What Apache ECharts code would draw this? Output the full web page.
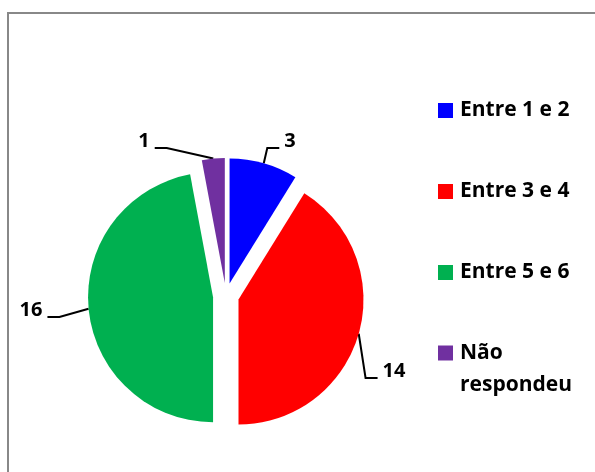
<!DOCTYPE html>
<html>
<head>
<meta charset="utf-8">
<script src="https://cdn.jsdelivr.net/npm/echarts@6/dist/echarts.min.js"></script>
<style>
html,body{margin:0;padding:0;background:#fff;}
#c{width:595px;height:472px;}
</style>
</head>
<body>
<div id="c"></div>
<script>
const categories = ['Entre 1 e 2', 'Entre 3 e 4', 'Entre 5 e 6', 'Não\nrespondeu'];
const values = [3, 14, 16, 1];
const colors = ['#0000FF', '#FF0000', '#00B050', '#7030A0'];
// where each value label sits (text centre, px) — style only
const labelPosX = [290, 394, 31, 144];
const labelPosY = [141, 371, 310, 141];

const FONT = 'Open Sans';
const chart = echarts.init(document.getElementById('c'), null, {renderer: 'canvas'});

const sliceData = categories.map((name, i) => ({
  name: name, value: values[i], selected: true, itemStyle: {color: colors[i]}
}));
const labelData = categories.map((name, i) => ({name: name, value: values[i]}));

const legendText = {fontFamily: FONT, fontWeight: 'bold', fontSize: 21, color: '#000', lineHeight: 29, padding: [0, 0, 0, 2]};

chart.setOption({
  animation: false,
  backgroundColor: '#ffffff',
  graphic: [{
    type: 'rect',
    shape: {x: 8, y: 13, width: 700, height: 600},
    style: {fill: '#ffffff', stroke: '#888888', lineWidth: 2},
    z: -10,
    silent: true
  }],
  legend: [{
    orient: 'vertical',
    left: 433,
    top: 91,
    itemWidth: 15,
    itemHeight: 15,
    itemGap: 52,
    icon: 'rect',
    selectedMode: false,
    data: categories.slice(0, 3),
    textStyle: legendText
  }, {
    orient: 'vertical',
    left: 433,
    top: 300,
    itemWidth: 15,
    itemHeight: 15,
    icon: 'rect',
    selectedMode: false,
    data: categories.slice(3),
    formatter: function (name) { return ' \n' + name; },
    textStyle: Object.assign({}, legendText, {lineHeight: 32})
  }],
  series: [{
    type: 'pie',
    name: 'slices',
    center: [226, 296],
    radius: 125,
    startAngle: 90,
    clockwise: true,
    selectedMode: 'multiple',
    selectedOffset: 13,
    emphasis: {disabled: true},
    silent: true,
    data: sliceData,
    itemStyle: {borderWidth: 0},
    label: {show: false},
    labelLine: {show: false}
  }, {
    type: 'pie',
    name: 'labels',
    center: [226, 296],
    radius: 138,
    startAngle: 90,
    clockwise: true,
    selectedMode: false,
    emphasis: {disabled: true},
    silent: true,
    avoidLabelOverlap: false,
    data: labelData,
    itemStyle: {color: 'rgba(0,0,0,0)', borderWidth: 0},
    label: {
      show: true,
      position: 'outside',
      formatter: '{c}',
      fontFamily: FONT,
      fontWeight: 'bold',
      fontSize: 20,
      color: '#000'
    },
    labelLine: {
      show: true,
      length: 14,
      length2: 12,
      smooth: false,
      lineStyle: {color: '#000', width: 2}
    },
    labelLayout: function (p) {
      const i = p.dataIndex;
      const lx = labelPosX[i], ly = labelPosY[i];
      const out = {x: lx, y: ly, align: 'center', verticalAlign: 'middle'};
      const pts = p.labelLinePoints;
      if (pts && pts.length) {
        const start = pts[0];
        const w = p.labelRect.width;
        const right = lx > start[0];
        const gap = 5, seg = 12;
        const endX = right ? lx - w / 2 - gap : lx + w / 2 + gap;
        const midX = right ? endX - seg : endX + seg;
        const lineY = ly + 7;
        out.labelLinePoints = [[start[0], start[1]], [midX, lineY], [endX, lineY]];
      }
      return out;
    }
  }]
});
</script>
</body>
</html>
